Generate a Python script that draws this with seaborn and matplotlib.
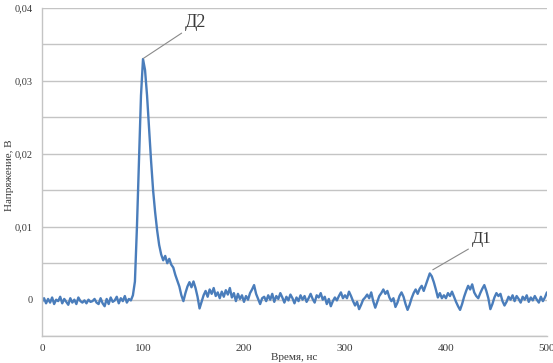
import numpy as np
import pandas as pd
import seaborn as sns
import matplotlib.pyplot as plt
from matplotlib.ticker import MultipleLocator, FuncFormatter

# signal, one value every 2 ns, in mV
t_step = 2
voltage_mv = [
    -0.3, 0.2, -0.5, 0.1, -0.4, 0.3, -0.6, 0.0, -0.2, 0.4,      # 0-18
    -0.5, 0.1, -0.3, -0.7, 0.2, -0.4, 0.0, -0.6, 0.3, -0.2,     # 20-38
    -0.4, -0.1, -0.5, 0.0, -0.3, -0.2, 0.1, -0.4, -0.6, 0.2,    # 40-58
    -0.5, -0.9, 0.1, -0.6, 0.3, -0.3, -0.1, 0.4, -0.5, 0.2,     # 60-78
    -0.2, 0.5, -0.4, 0.1, -0.1, 0.6, 2.5, 10.0, 19.0, 28.0,     # 80-98
    33.0, 31.5, 28.0, 23.5, 19.0, 15.0, 12.0, 9.5, 7.5, 6.2,    # 100-118
    5.4, 6.0, 5.0, 5.6, 4.8, 4.4, 3.4, 2.6, 1.8, 0.6,           # 120-138
    -0.2, 0.9, 1.8, 2.4, 1.7, 2.5, 1.6, 0.4, -1.2, -0.3,        # 140-158
    0.6, 1.2, 0.4, 1.4, 0.8, 1.6, 0.5, 1.0, 0.2, 1.1,           # 160-178
    0.4, 1.3, 0.7, 1.6, 0.3, 0.9, -0.2, 0.8, 0.1, 0.6,          # 180-198
    -0.3, 0.5, 0.0, 0.9, 1.4, 2.0, 0.8, 0.1, -0.6, 0.2,         # 200-218
    0.4, -0.2, 0.6, 0.0, 0.8, -0.3, 0.5, 0.1, 0.9, 0.3,         # 220-238
    -0.4, 0.4, -0.1, 0.7, 0.2, -0.5, 0.3, -0.2, 0.6, 0.0,       # 240-258
    0.5, -0.3, 0.2, 0.8, 0.1, -0.4, 0.6, 0.3, 0.9, 0.0,         # 260-278
    0.4, -0.6, 0.1, -0.9, -0.2, 0.3, -0.1, 0.5, 1.0, 0.2,       # 280-298
    0.6, 0.2, 1.1, 0.5, -0.2, -0.8, -0.3, -1.3, -0.7, 0.0,      # 300-318
    0.3, 0.7, 0.2, 1.0, -0.2, -1.1, -0.3, 0.5, 0.9, 1.4,        # 320-338
    0.8, 1.2, 0.3, -0.2, 0.2, -1.0, -0.4, 0.5, 1.0, 0.4,        # 340-358
    -0.6, -1.4, -0.7, 0.2, 0.9, 1.4, 0.8, 1.5, 1.9, 1.2,        # 360-378
    2.0, 2.8, 3.6, 3.2, 2.4, 1.4, 0.3, 0.9, 0.2, 0.6,           # 380-398
    0.2, 0.9, 0.5, 1.1, 0.4, -0.3, -0.9, -1.4, -0.6, 0.4,       # 400-418
    1.2, 1.9, 1.4, 2.1, 1.0, 0.5, 0.2, 0.9, 1.5, 2.0,           # 420-438
    1.2, 0.2, -1.3, -0.6, 0.3, 0.9, 0.5, 0.8, -0.2, -0.8,       # 440-458
    -0.3, 0.4, 0.0, 0.6, -0.2, 0.5, 0.1, -0.4, 0.4, 0.0,        # 460-478
    0.6, -0.3, 0.3, -0.1, 0.5, 0.0, -0.4, 0.4, -0.2, 0.3,       # 480-498
    1.0,                                                        # 500
]
time_ns = np.arange(len(voltage_mv)) * t_step

df = pd.DataFrame({"t": time_ns, "u": np.array(voltage_mv) / 1000.0})

sns.set_theme(style="white")
plt.rcParams["font.family"] = ["Liberation Serif", "DejaVu Serif"]

fig = plt.figure(figsize=(5.53, 3.63), dpi=100)
ax = fig.add_axes([0.076, 0.074, 0.913, 0.904])

grid_col = "#c4c4c4"
text_col = "#3a3a3a"

sns.lineplot(data=df, x="t", y="u", ax=ax, color="#4a7dbb", linewidth=1.7)

ax.set_xlim(0, 500)
ax.set_ylim(-0.005, 0.04)
ax.xaxis.set_major_locator(MultipleLocator(100))
ax.xaxis.set_minor_locator(MultipleLocator(50))
ax.yaxis.set_major_locator(MultipleLocator(0.01))
ax.yaxis.set_minor_locator(MultipleLocator(0.005))
ax.yaxis.set_major_formatter(FuncFormatter(lambda v, p: "0" if abs(v) < 1e-9 else f"{v:.2f}".replace(".", ",")))

ax.grid(True, axis="y", which="both", color=grid_col, linewidth=1.0)
ax.set_axisbelow(True)

for side in ["top", "right"]:
    ax.spines[side].set_visible(False)
for side in ["left", "bottom"]:
    ax.spines[side].set_color(grid_col)
    ax.spines[side].set_linewidth(1.0)

ax.tick_params(axis="both", which="major", labelsize=8, labelcolor=text_col,
               color=grid_col, length=3, width=1, pad=3)
ax.tick_params(axis="y", which="major", labelsize=7.5, pad=4)
ax.tick_params(axis="x", which="minor", color=grid_col, length=2, width=1)
ax.tick_params(axis="y", which="minor", length=0)

ax.set_xlabel("Время, нс", fontsize=8, color=text_col, labelpad=0)
ax.set_ylabel("Напряжение, В", fontsize=8, color=text_col)
ax.yaxis.set_label_coords(-0.055, 0.49)

ax.annotate("Д2", xy=(100.5, 0.0331), xytext=(141.5, 0.03685),
            fontsize=13, color=text_col, ha="left", va="bottom",
            arrowprops=dict(arrowstyle="-", color="#8a8a8a", linewidth=0.8,
                            shrinkA=0, shrinkB=0, relpos=(0, 0)))
ax.annotate("Д1", xy=(387, 0.0041), xytext=(425.5, 0.0072),
            fontsize=12, color=text_col, ha="left", va="bottom",
            arrowprops=dict(arrowstyle="-", color="#8a8a8a", linewidth=0.8,
                            shrinkA=0, shrinkB=0, relpos=(0, 0)))

fig.savefig("out.png", dpi=100)
